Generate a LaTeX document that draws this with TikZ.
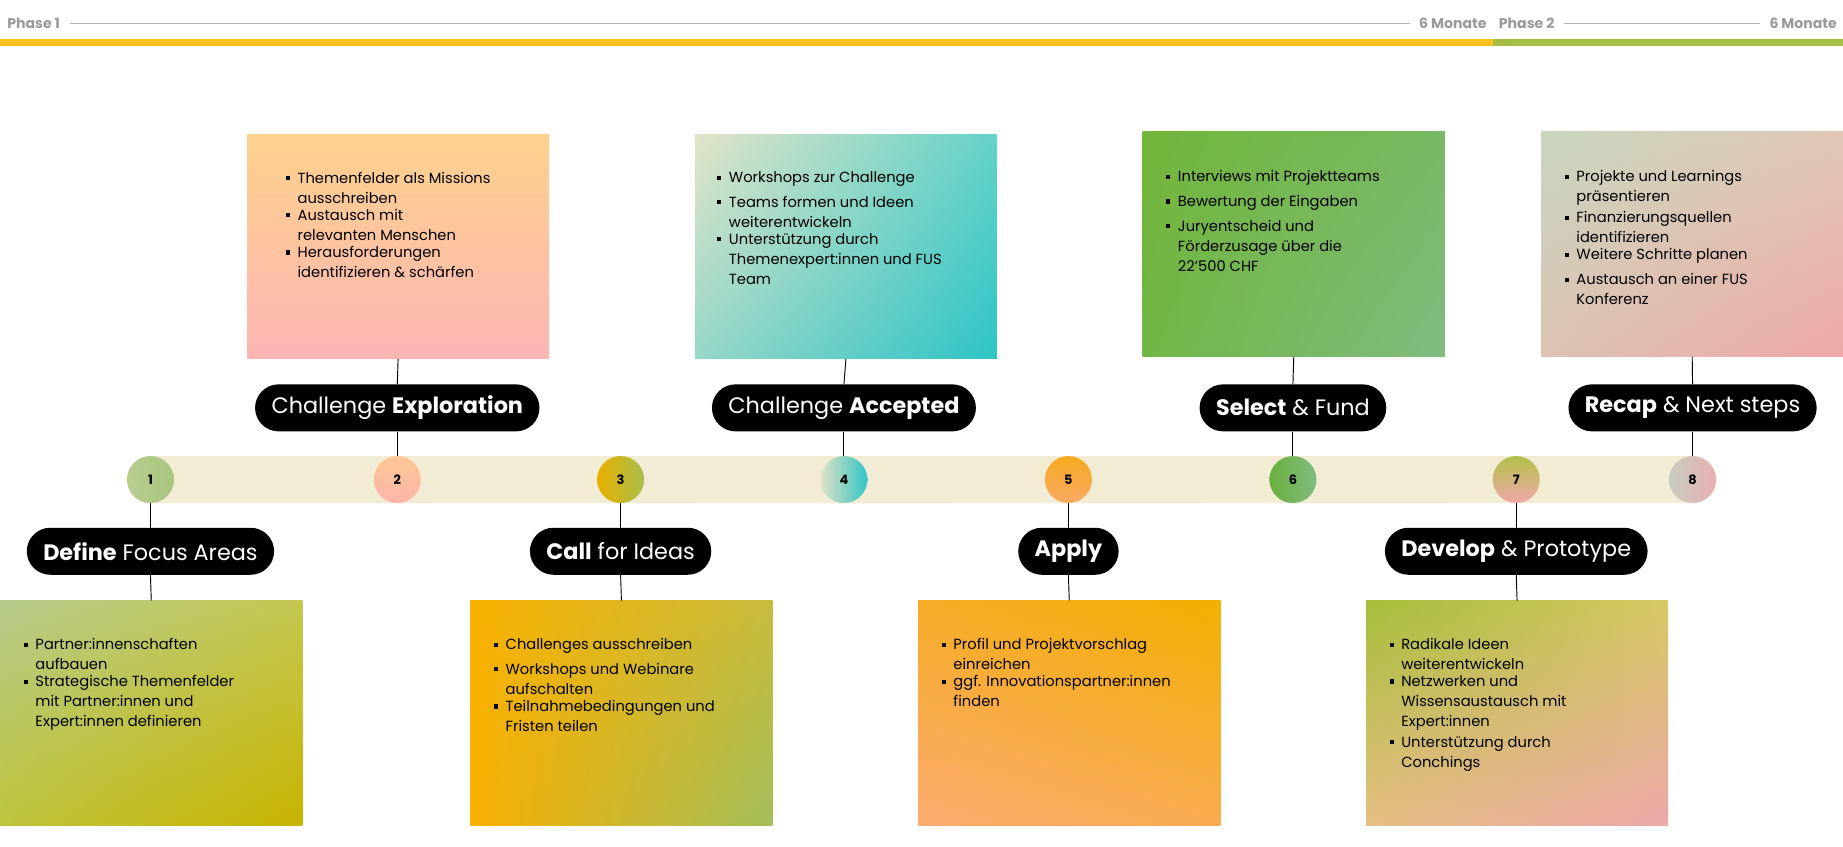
\documentclass[tikz,border=0pt]{standalone}
\usetikzlibrary{shadings}
\usepackage{fontspec}
\setmainfont{Poppins}
\definecolor{bandA}{HTML}{F6F0DC}\definecolor{bandB}{HTML}{F3ECD4}
\definecolor{phy}{HTML}{FCC21E}\definecolor{phg}{HTML}{A6BE45}
\definecolor{c1a}{HTML}{B8CE90}\definecolor{c1b}{HTML}{A8C680}
\definecolor{c2a}{HTML}{FDC896}\definecolor{c2b}{HTML}{FDB4AA}
\definecolor{c3a}{HTML}{E8B000}\definecolor{c3b}{HTML}{A8BE4A}
\definecolor{c4a}{HTML}{E1E1C3}\definecolor{c4b}{HTML}{32C4C6}
\definecolor{c5a}{HTML}{F5AA1E}\definecolor{c5b}{HTML}{FAAA64}
\definecolor{c6a}{HTML}{6AB03C}\definecolor{c6b}{HTML}{80BB80}
\definecolor{c7a}{HTML}{B4C048}\definecolor{c7b}{HTML}{EFA8AA}
\definecolor{c8a}{HTML}{C8CCC0}\definecolor{c8b}{HTML}{E8B0B0}
\definecolor{b1ul}{HTML}{B6CA8C}\definecolor{b1ur}{HTML}{C4C850}\definecolor{b1ll}{HTML}{BEC43C}\definecolor{b1lr}{HTML}{C8B400}
\definecolor{b2t}{HTML}{FDD28C}\definecolor{b2b}{HTML}{FDB5B5}
\definecolor{b3ul}{HTML}{F9B100}\definecolor{b3ur}{HTML}{C8BC3C}\definecolor{b3ll}{HTML}{F9B000}\definecolor{b3lr}{HTML}{A3BE5A}
\definecolor{b4ul}{HTML}{E2E4C8}\definecolor{b4ur}{HTML}{64D2C8}\definecolor{b4ll}{HTML}{96D7C8}\definecolor{b4lr}{HTML}{2EC4C6}
\definecolor{b5ul}{HTML}{F5AC28}\definecolor{b5ur}{HTML}{F2B000}\definecolor{b5ll}{HTML}{FDAB70}\definecolor{b5lr}{HTML}{FAAC50}
\definecolor{b6ul}{HTML}{72B63A}\definecolor{b6ur}{HTML}{78B964}\definecolor{b6ll}{HTML}{72B646}\definecolor{b6lr}{HTML}{80BB80}
\definecolor{b7ul}{HTML}{A6BE3A}\definecolor{b7ur}{HTML}{D7C864}\definecolor{b7ll}{HTML}{E6BE82}\definecolor{b7lr}{HTML}{EDA8AA}
\definecolor{b8ul}{HTML}{C8D6C0}\definecolor{b8ur}{HTML}{E1C8B4}\definecolor{b8ll}{HTML}{DCC3B4}\definecolor{b8lr}{HTML}{EEA8A8}
\begin{document}
\begin{tikzpicture}[x=1pt,y=-1pt,
  card/.style={draw=none,minimum width=257pt,minimum height=191pt,anchor=north west,inner sep=0pt},
  q/.style={shading=bilinear interpolation,upper left=#1ul,upper right=#1ur,lower left=#1ll,lower right=#1lr},
  pill/.style={fill=black,text=white,rounded corners=20pt,minimum height=40pt,inner xsep=14pt,font=\fontsize{19}{22}\selectfont},
  dot/.style={circle,minimum size=40pt,inner sep=0pt,font=\fontsize{11}{12}\selectfont\bfseries},
  txt/.style={anchor=north west,inner sep=0pt,font=\fontsize{12.5}{17}\selectfont,align=left},
  band/.style={fill=#1,rounded corners=20pt},
  conn/.style={line width=0.8pt},
  ph/.style={text=gray!80,font=\fontsize{12}{14}\selectfont\bfseries,inner sep=0pt}]
\useasboundingbox (0,0) rectangle (1568,720);
\newcommand{\itm}[1]{\makebox[10pt][l]{\rule[2.5pt]{3.5pt}{3.5pt}}\parbox[t]{220pt}{#1}\\[4pt]}
% header
\node[ph,anchor=west] (p1) at (6,20) {Phase 1};
\node[ph,anchor=east] (m1) at (1265,20) {6 Monate};
\node[ph,anchor=west] (p2) at (1275,20) {Phase 2};
\node[ph,anchor=east] (m2) at (1563,20) {6 Monate};
\draw[gray!60,line width=0.8pt] ([xshift=8pt]p1.east) -- ([xshift=-8pt]m1.west);
\draw[gray!60,line width=0.8pt] ([xshift=8pt]p2.east) -- ([xshift=-8pt]m2.west);
\fill[phy] (0,33) rectangle (1270,39);
\fill[phg] (1270,33) rectangle (1568,39);
% band
\fill[band=bandA] (108,388) rectangle (1460,428);
\foreach \a/\b in {108/385,318/612,508/830,698/1042,889/1252,1080/1460}
  \fill[band=bandB] (\a,388) rectangle (\b,428);
% circles
\node[dot,shade,left color=c1a,right color=c1b] (c1) at (128,408) {1};
\node[dot,shade,top color=c2a,bottom color=c2b] (c2) at (338,408) {2};
\node[dot,shade,left color=c3a,right color=c3b] (c3) at (528,408) {3};
\node[dot,shade,left color=c4a,right color=c4b] (c4) at (718,408) {4};
\node[dot,shade,top color=c5a,bottom color=c5b] (c5) at (909,408) {5};
\node[dot,shade,left color=c6a,right color=c6b] (c6) at (1100,408) {6};
\node[dot,shade,top color=c7a,bottom color=c7b] (c7) at (1290,408) {7};
\node[dot,shade,left color=c8a,right color=c8b] (c8) at (1440,408) {8};
% pills
\node[pill] (l1) at (128,469) {\textbf{Define} Focus Areas};
\node[pill] (l2) at (338,347) {Challenge \textbf{Exploration}};
\node[pill] (l3) at (528,469) {\textbf{Call} for Ideas};
\node[pill] (l4) at (718,347) {Challenge \textbf{Accepted}};
\node[pill] (l5) at (909,469) {\textbf{Apply}};
\node[pill] (l6) at (1100,347) {\textbf{Select} \& Fund};
\node[pill] (l7) at (1290,469) {\textbf{Develop} \& Prototype};
\node[pill] (l8) at (1440,347) {\textbf{Recap} \& Next steps};
% cards
\node[card,q=b1] (b1) at (0,511) {};
\node[card,shade,top color=b2t,bottom color=b2b] (b2) at (210,114) {};
\node[card,q=b3] (b3) at (400,511) {};
\node[card,q=b4] (b4) at (591,114) {};
\node[card,q=b5] (b5) at (781,511) {};
\node[card,q=b6] (b6) at (972,112) {};
\node[card,q=b7] (b7) at (1162,511) {};
\node[card,q=b8] (b8) at (1311,112) {};
% card texts
\node[txt] (t1) at (20,543) {\itm{Partner:innenschaften\\aufbauen}\itm{Strategische Themenfelder\\mit Partner:innen und\\Expert:innen definieren}};
\node[txt] (t2) at (243,146) {\itm{Themenfelder als Missions\\ausschreiben}\itm{Austausch mit\\relevanten Menschen}\itm{Herausforderungen\\identifizieren \& schärfen}};
\node[txt] (t3) at (420,543) {\itm{Challenges ausschreiben}\itm{Workshops und Webinare\\aufschalten}\itm{Teilnahmebedingungen und\\Fristen teilen}};
\node[txt] (t4) at (610,146) {\itm{Workshops zur Challenge}\itm{Teams formen und Ideen\\weiterentwickeln}\itm{Unterstützung durch\\Themenexpert:innen und FUS\\Team}};
\node[txt] (t5) at (801,543) {\itm{Profil und Projektvorschlag\\einreichen}\itm{ggf. Innovationspartner:innen\\finden}};
\node[txt] (t6) at (992,145) {\itm{Interviews mit Projektteams}\itm{Bewertung der Eingaben}\itm{Juryentscheid und\\Förderzusage über die\\22’500 CHF}};
\node[txt] (t7) at (1182,543) {\itm{Radikale Ideen\\weiterentwickeln}\itm{Netzwerken und\\Wissensaustausch mit\\Expert:innen}\itm{Unterstützung durch\\Conchings}};
\node[txt] (t8) at (1331,145) {\itm{Projekte und Learnings\\präsentieren}\itm{Finanzierungsquellen\\identifizieren}\itm{Weitere Schritte planen}\itm{Austausch an einer FUS\\Konferenz}};
% connectors
\foreach \i in {1,3,5,7}{\draw[conn] (c\i.south) -- (l\i.north); \draw[conn] (l\i.south) -- (b\i.north);}
\foreach \i in {2,4,6,8}{\draw[conn] (b\i.south) -- (l\i.north); \draw[conn] (l\i.south) -- (c\i.north);}
\end{tikzpicture}
\end{document}
